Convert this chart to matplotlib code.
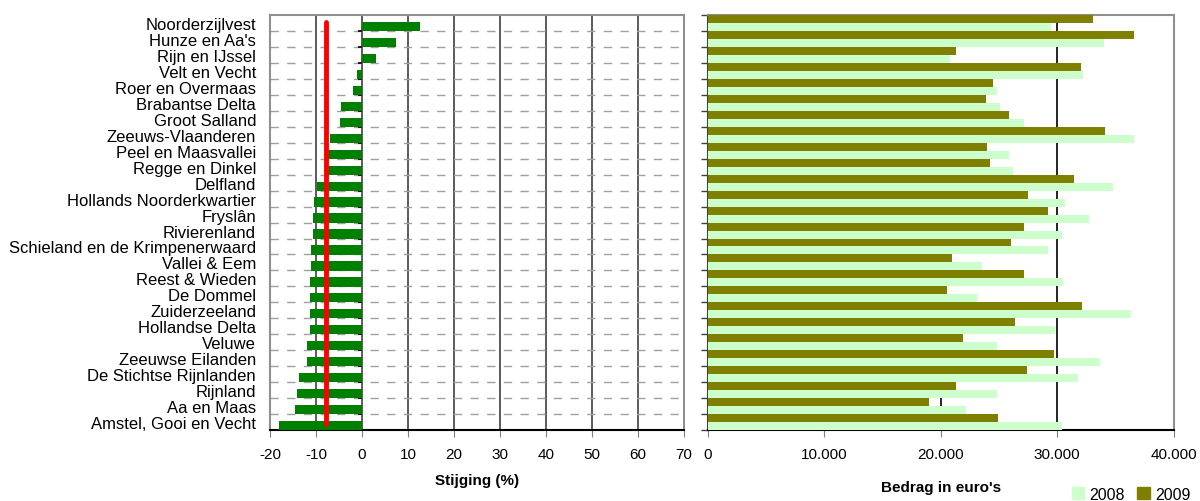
import numpy as np
import matplotlib
matplotlib.use('Agg')
import matplotlib.pyplot as plt
from matplotlib.patches import Patch

plt.rcParams['font.family'] = ['Liberation Sans', 'DejaVu Sans']
plt.rcParams['axes.unicode_minus'] = False

# Data
schappen = ['Noorderzijlvest', "Hunze en Aa's", 'Rijn en IJssel', 'Velt en Vecht',
            'Roer en Overmaas', 'Brabantse Delta', 'Groot Salland', 'Zeeuws-Vlaanderen',
            'Peel en Maasvallei', 'Regge en Dinkel', 'Delfland', 'Hollands Noorderkwartier',
            'Fryslân', 'Rivierenland', 'Schieland en de Krimpenerwaard', 'Vallei & Eem',
            'Reest & Wieden', 'De Dommel', 'Zuiderzeeland', 'Hollandse Delta', 'Veluwe',
            'Zeeuwse Eilanden', 'De Stichtse Rijnlanden', 'Rijnland', 'Aa en Maas',
            'Amstel, Gooi en Vecht']
stijging = [12.5, 7.4, 3.0, -1.0, -1.9, -4.5, -4.7, -6.9, -7.3, -7.3, -9.7, -10.4,
            -10.6, -10.6, -11.0, -11.0, -11.2, -11.4, -11.4, -11.4, -11.9, -11.9,
            -13.8, -14.1, -14.5, -18.0]
gemiddeld = -7.8
bedrag_2008 = [29460, 34000, 20760, 32210, 24810, 25060, 27130, 36610, 25840, 26180,
               34800, 30660, 32730, 30400, 29200, 23510, 30490, 23080, 36350, 29800,
               24810, 33680, 31780, 24810, 22140, 30400]
bedrag_2009 = [33070, 36600, 21270, 32040, 24460, 23860, 25840, 34110, 23940, 24200,
               31440, 27480, 29200, 27130, 26000, 20930, 27130, 20500, 32130, 26360,
               21880, 29720, 27390, 21270, 18950, 24890]

n = len(schappen)
y = np.arange(n)

fig = plt.figure(figsize=(12, 5.02), dpi=100)
ax1 = fig.add_axes([0.225, 0.1414, 0.345, 0.8266])
ax2 = fig.add_axes([0.59, 0.1414, 0.388, 0.8266])

# left panel: stijging
ax1.set_axisbelow(True)
ax1.hlines(np.arange(1, n) - 0.5, -20, 70, colors='#a0a0a0', lw=1,
           linestyles=(0, (6, 6)), zorder=1)
ax1.barh(y + 0.22, stijging, height=0.58, color='#008000', zorder=3)
ax1.plot([gemiddeld, gemiddeld], [y[0] - 0.05, y[-1] + 0.1], color='#ff0000', lw=3.5,
         solid_capstyle='round', zorder=4)
ax1.set_xlim(-20, 70)
ax1.set_ylim(n - 0.5, -0.5)
ax1.set_xticks(np.arange(-20, 71, 10))
ax1.set_yticks(y)
ax1.set_yticklabels(schappen)
ax1.tick_params(axis='y', length=0, pad=10, labelsize=12)
ax1.tick_params(axis='x', labelsize=11, length=5, width=0.8, color='#808080', pad=7)
ax1.xaxis.grid(True, color='#404040', lw=1.2)
for s in ['top', 'right', 'left']:
    ax1.spines[s].set_color('#909090')
    ax1.spines[s].set_linewidth(1.5)
ax1.spines['bottom'].set_color('black')
ax1.spines['bottom'].set_linewidth(1.5)
# small ticks on the zero line
ax1.hlines(np.arange(n) + 0.5, -0.9, 0, colors='black', lw=1.2, zorder=2)
ax1.set_xlabel('Stijging (%)', fontsize=11, fontweight='bold', labelpad=9)

# right panel: bedrag
ax2.set_axisbelow(True)
ax2.barh(y - 0.25, bedrag_2009, height=0.5, color='#808000', zorder=3, label='2009')
ax2.barh(y + 0.25, bedrag_2008, height=0.5, color='#ccffcc', zorder=3, label='2008')
ax2.set_xlim(0, 40000)
ax2.set_ylim(n - 0.5, -0.5)
ax2.set_xticks(np.arange(0, 40001, 10000))
ax2.set_xticklabels(['0', '10.000', '20.000', '30.000', '40.000'])
ax2.set_yticks(np.arange(n + 1) - 0.5)
ax2.set_yticklabels([])
ax2.tick_params(axis='y', length=5, width=1, direction='out', color='#404040')
ax2.tick_params(axis='x', labelsize=11, length=5, width=0.8, color='#808080', pad=7)
ax2.xaxis.grid(True, color='black', lw=1.2)
for s in ['top', 'right']:
    ax2.spines[s].set_color('#909090')
    ax2.spines[s].set_linewidth(1.5)
ax2.spines['left'].set_color('#404040')
ax2.spines['left'].set_linewidth(1.5)
ax2.spines['bottom'].set_color('black')
ax2.spines['bottom'].set_linewidth(1.5)
ax2.set_xlabel("Bedrag in euro's", fontsize=11, fontweight='bold', labelpad=14)

handles = [Patch(color='#ccffcc', label='2008'), Patch(color='#808000', label='2009')]
fig.legend(handles=handles, loc='lower right', bbox_to_anchor=(1.004, -0.03), ncol=2,
           frameon=False, fontsize=11.5, handlelength=0.8, handleheight=0.8,
           handletextpad=0.3, columnspacing=0.8)

fig.savefig('out.png', dpi=100)
